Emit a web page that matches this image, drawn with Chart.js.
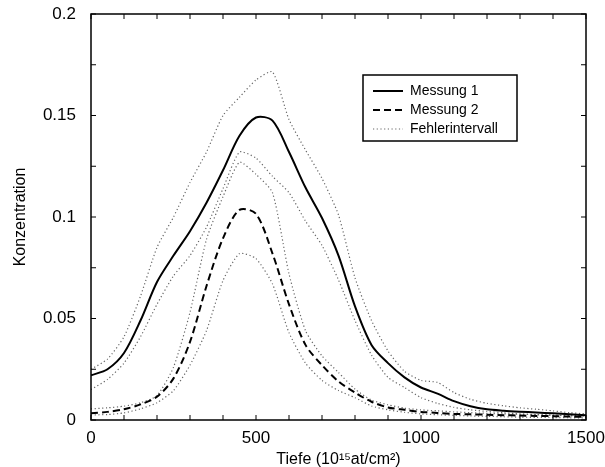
<!DOCTYPE html>
<html>
<head>
<meta charset="utf-8">
<script src="https://cdn.jsdelivr.net/npm/chart.js@4/dist/chart.umd.min.js"></script>
<style>
  body { margin: 0; background: #fff; }
</style>
</head>
<body>
<canvas id="c" width="605" height="467"></canvas>
<script>
// Tiefe in 10^15 at/cm^2
var tiefe = [0, 50, 100, 150, 200, 250, 300, 350, 400, 450, 500, 550, 600, 650, 700, 750,
  800, 850, 900, 950, 1000, 1050, 1100, 1150, 1200, 1250, 1300, 1350, 1400, 1450, 1500];

var messung1 = [0.022, 0.025, 0.033, 0.049, 0.068, 0.081, 0.093, 0.107, 0.123, 0.140, 0.149, 0.1475,
  0.132, 0.1145, 0.0995, 0.081, 0.056, 0.037, 0.028, 0.021, 0.016, 0.013, 0.0093, 0.0068, 0.0053,
  0.0046, 0.0041, 0.0037, 0.0033, 0.0028, 0.0023];

var messung2 = [0.0033, 0.004, 0.0053, 0.0077, 0.0115, 0.0205, 0.0385, 0.066, 0.0895, 0.1035, 0.1015,
  0.082, 0.057, 0.037, 0.027, 0.019, 0.0135, 0.009, 0.0062, 0.005, 0.004, 0.0035, 0.003, 0.0028,
  0.0026, 0.0024, 0.0022, 0.002, 0.0019, 0.0017, 0.0015];

// Fehlerintervall: obere / untere Grenze fuer beide Messungen
var m1Oben = [0.025, 0.03, 0.041, 0.061, 0.085, 0.1, 0.117, 0.132, 0.15, 0.159, 0.1675, 0.1715,
  0.148, 0.133, 0.119, 0.101, 0.07, 0.049, 0.034, 0.024, 0.0195, 0.0185, 0.0135, 0.0102, 0.0082,
  0.007, 0.006, 0.0053, 0.0045, 0.0036, 0.003];

var m1Unten = [0.015, 0.02, 0.028, 0.041, 0.057, 0.071, 0.081, 0.095, 0.114, 0.132, 0.129, 0.12,
  0.112, 0.098, 0.086, 0.069, 0.049, 0.032, 0.021, 0.016, 0.011, 0.0082, 0.0062, 0.005, 0.0042,
  0.0036, 0.003, 0.0027, 0.0023, 0.0021, 0.002];

var m2Oben = [0.0055, 0.006, 0.0068, 0.0085, 0.012, 0.026, 0.053, 0.089, 0.11, 0.127, 0.121, 0.112,
  0.072, 0.044, 0.0316, 0.0234, 0.0152, 0.0098, 0.0075, 0.0058, 0.005, 0.0045, 0.004, 0.0036,
  0.0033, 0.003, 0.0028, 0.0026, 0.0024, 0.0022, 0.002];

var m2Unten = [0.0025, 0.0027, 0.0035, 0.0055, 0.0085, 0.0145, 0.027, 0.044, 0.0687, 0.082, 0.0795,
  0.067, 0.043, 0.028, 0.0195, 0.0145, 0.011, 0.0069, 0.005, 0.0038, 0.003, 0.0026, 0.0023, 0.002,
  0.0018, 0.0016, 0.0014, 0.0013, 0.0012, 0.0011, 0.001];

var FONT = '"Liberation Sans", Arial, sans-serif';

function punkte(werte) {
  return tiefe.map(function (t, i) { return { x: t, y: werte[i] }; });
}

function fehlerSet(label, werte) {
  return {
    label: label,
    data: punkte(werte),
    borderColor: '#666',
    borderWidth: 1.2,
    borderDash: [1.2, 2.5],
    pointRadius: 0,
    tension: 0.2,
    fill: false
  };
}

var datasets = [
  { label: 'Messung 1', data: punkte(messung1), borderColor: '#000', borderWidth: 2,
    pointRadius: 0, tension: 0.3, fill: false },
  { label: 'Messung 2', data: punkte(messung2), borderColor: '#000', borderWidth: 2,
    borderDash: [7, 4], pointRadius: 0, tension: 0.3, fill: false },
  fehlerSet('Fehlerintervall', m1Oben),
  fehlerSet('', m1Unten),
  fehlerSet('', m2Oben),
  fehlerSet('', m2Unten)
];

// keine automatischen Label-Raender, Platz kommt aus layout.padding
function ohneRand(s) {
  s.paddingTop = 0; s.paddingBottom = 0; s.paddingLeft = 0; s.paddingRight = 0;
}

// Rahmen + Ticks nach innen auf allen vier Seiten
var rahmen = {
  id: 'rahmen',
  afterDraw: function (chart) {
    var ctx = chart.ctx, a = chart.chartArea;
    var xs = chart.scales.x, ys = chart.scales.y;
    ctx.save();
    ctx.strokeStyle = '#000';
    ctx.lineWidth = 1.5;
    ctx.strokeRect(a.left, a.top, a.right - a.left, a.bottom - a.top);
    ctx.lineWidth = 1;
    ctx.beginPath();
    xs.ticks.forEach(function (t) {
      var px = xs.getPixelForValue(t.value);
      ctx.moveTo(px, a.bottom); ctx.lineTo(px, a.bottom - 5);
      ctx.moveTo(px, a.top); ctx.lineTo(px, a.top + 5);
    });
    ys.ticks.forEach(function (t) {
      var py = ys.getPixelForValue(t.value);
      ctx.moveTo(a.left, py); ctx.lineTo(a.left + 5, py);
      ctx.moveTo(a.right, py); ctx.lineTo(a.right - 5, py);
    });
    ctx.stroke();
    ctx.restore();
  }
};

// Legende im Diagramm, oben rechts
var legende = {
  id: 'legende',
  afterDraw: function (chart) {
    var ctx = chart.ctx, a = chart.chartArea;
    var bx = a.left + 272, by = a.top + 61, bw = 154, bh = 66;
    ctx.save();
    ctx.fillStyle = '#fff';
    ctx.fillRect(bx, by, bw, bh);
    ctx.strokeStyle = '#000';
    ctx.lineWidth = 1.5;
    ctx.strokeRect(bx, by, bw, bh);
    ctx.font = '14px ' + FONT;
    ctx.textBaseline = 'middle';
    ctx.fillStyle = '#000';
    [0, 1, 2].forEach(function (i) {
      var ds = chart.data.datasets[i];
      var y = by + 16 + i * 19;
      ctx.beginPath();
      ctx.strokeStyle = ds.borderColor;
      ctx.lineWidth = ds.borderWidth;
      ctx.setLineDash(ds.borderDash || []);
      ctx.moveTo(bx + 10, y);
      ctx.lineTo(bx + 40, y);
      ctx.stroke();
      ctx.setLineDash([]);
      ctx.fillText(ds.label, bx + 47, y);
    });
    ctx.restore();
  }
};

new Chart(document.getElementById('c'), {
  type: 'line',
  data: { datasets: datasets },
  options: {
    responsive: false,
    animation: false,
    layout: { padding: { left: 0, right: 19, top: 14, bottom: 0 } },
    plugins: {
      legend: { display: false },
      tooltip: { enabled: false }
    },
    scales: {
      x: {
        type: 'linear',
        min: 0,
        max: 1500,
        afterFit: function (s) { s.height = 47; ohneRand(s); },
        grid: { display: false, drawTicks: false },
        border: { display: false },
        ticks: {
          stepSize: 100,
          autoSkip: false,
          maxRotation: 0,
          padding: 8,
          color: '#000',
          font: { family: FONT, size: 17 },
          callback: function (v) { return v % 500 === 0 ? String(v) : ''; }
        },
        title: {
          display: true,
          text: 'Tiefe (10\u00b9\u2075at/cm\u00b2)',
          color: '#000',
          font: { family: FONT, size: 16 },
          padding: { top: 0, bottom: -2 }
        }
      },
      y: {
        min: 0,
        max: 0.2,
        afterFit: function (s) { s.width = 91; ohneRand(s); },
        grid: { display: false, drawTicks: false },
        border: { display: false },
        ticks: {
          stepSize: 0.025,
          autoSkip: false,
          padding: 15,
          color: '#000',
          font: { family: FONT, size: 17 },
          callback: function (v) {
            var k = v / 0.05;
            return Math.abs(k - Math.round(k)) < 1e-6 ? String(+v.toFixed(3)) : '';
          }
        },
        title: {
          display: true,
          text: 'Konzentration',
          color: '#000',
          font: { family: FONT, size: 16 },
          padding: { top: 11, bottom: 0 }
        }
      }
    }
  },
  plugins: [rahmen, legende]
});
</script>
</body>
</html>
